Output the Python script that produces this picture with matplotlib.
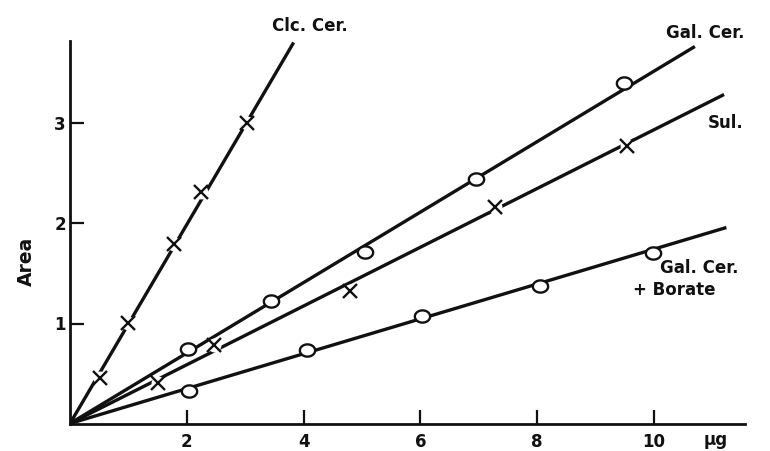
import numpy as np
import matplotlib
matplotlib.use("Agg")
import matplotlib.pyplot as plt
from matplotlib.path import Path

# ---- data ----
clc_x = [0.51, 1.0, 1.78, 2.24, 3.03]
clc_y = [0.46, 1.01, 1.79, 2.31, 3.01]
clc_end = [3.83, 3.81]

gal_x = [2.02, 3.44, 5.06, 6.96, 9.49]
gal_y = [0.75, 1.23, 1.71, 2.445, 3.40]
gal_end = [10.7, 3.77]

sul_x = [1.51, 2.47, 4.79, 7.28, 9.53]
sul_y = [0.41, 0.785, 1.33, 2.16, 2.77]
sul_end = [11.2, 3.29]

bor_x = [2.03, 4.06, 6.02, 8.05, 9.99]
bor_y = [0.325, 0.74, 1.075, 1.375, 1.70]
bor_end = [11.24, 1.96]

x_ticks = [2, 4, 6, 8, 10]
y_ticks = [1, 2, 3]

plt.rcParams['font.family'] = ['DejaVu Sans']
plt.rcParams['font.weight'] = 'bold'

ink = '#111111'
fig = plt.figure(figsize=(7.7, 4.51), dpi=100)
ax = fig.add_axes([70/770, 1-423.5/451, (744.5-70)/770, (423.5-41.5)/451])
ax.set_xlim(0, 11.55)
ax.set_ylim(0, 3.82)

for s in ['top', 'right']:
    ax.spines[s].set_visible(False)
for s in ['left', 'bottom']:
    ax.spines[s].set_linewidth(2.0)
    ax.spines[s].set_color(ink)

ax.set_xticks(x_ticks)
ax.set_yticks(y_ticks)
ax.set_xticklabels([str(v) for v in x_ticks])
ax.set_yticklabels([str(v) for v in y_ticks])
ax.tick_params(direction='in', length=10, width=1.6, colors=ink, labelsize=12)
ax.tick_params(axis='x', pad=7)
ax.tick_params(axis='y', pad=3)

t = np.linspace(0, 2*np.pi, 64)
ell = Path(np.column_stack([np.cos(t), 0.8*np.sin(t)]), closed=True)

lw = 2.4
def series(px, py, end, marker):
    ax.plot([0, end[0]], [0, end[1]], color=ink, lw=lw, solid_capstyle='butt', zorder=2)
    if marker == 'o':
        ax.plot(px, py, ls='none', marker=ell, ms=11, mfc='white', mec=ink, mew=1.7, zorder=4)
    else:
        ax.plot(px, py, ls='none', marker='o', ms=9, mfc='white', mec='white', zorder=3)
        ax.plot(px, py, ls='none', marker='x', ms=9.5, mec=ink, mew=1.7, zorder=4)

series(clc_x, clc_y, clc_end, 'x')
series(gal_x, gal_y, gal_end, 'o')
series(sul_x, sul_y, sul_end, 'x')
series(bor_x, bor_y, bor_end, 'o')

tk = dict(fontsize=12, color=ink, fontweight='bold', clip_on=False)
ax.text(4.1, 3.97, 'Clc. Cer.', ha='center', va='center', **tk)
ax.text(10.87, 3.9, 'Gal. Cer.', ha='center', va='center', **tk)
ax.text(11.23, 3.0, 'Sul.', ha='center', va='center', **tk)
ax.text(10.1, 1.555, 'Gal. Cer.', ha='left', va='center', **tk)
ax.text(9.64, 1.335, '+ Borate', ha='left', va='center', **tk)

fig.text(0.034, 0.42, 'Area', rotation=90, ha='center', va='center',
         fontsize=13.5, color=ink, fontweight='bold')
fig.text(716/770, 1-440/451, 'μg', ha='center', va='center',
         fontsize=12, color=ink, fontweight='bold')

fig.savefig('out.png', dpi=100, facecolor='white')
